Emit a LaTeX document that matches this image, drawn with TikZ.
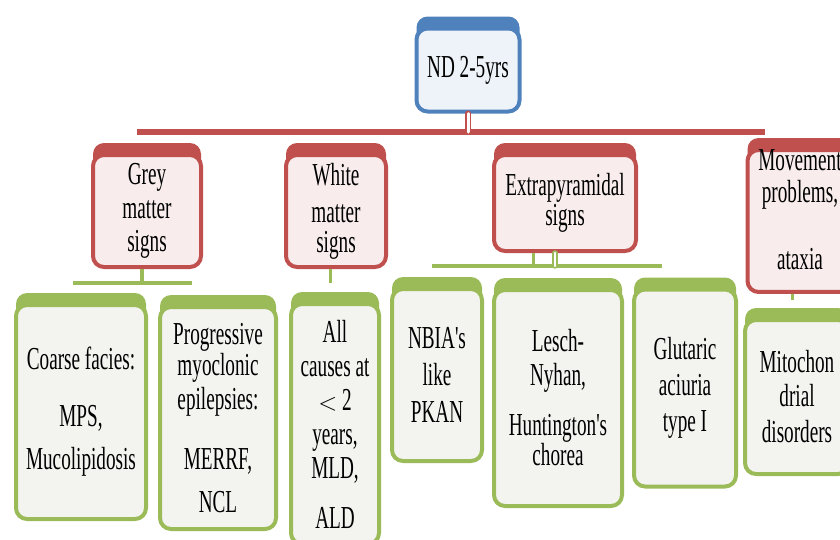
\documentclass[tikz,border=0pt]{standalone}
\usepackage{fontspec}
\newfontfamily\boxfont[FakeStretch=0.6]{Liberation Serif}
\usetikzlibrary{shadows}
\definecolor{cRed}{HTML}{C0504D}
\definecolor{cPink}{HTML}{F8ECEC}
\definecolor{cGreen}{HTML}{9BBB59}
\definecolor{cPale}{HTML}{F3F4F0}
\definecolor{cBlue}{HTML}{4F81BD}
\definecolor{cIce}{HTML}{EEF3F9}
\begin{document}
\begin{tikzpicture}[x=1pt,y=1pt,line cap=round,line join=round,
 font=\boxfont\fontsize{32}{34}\selectfont,
 box/.style={rounded corners=11pt,line width=4pt,align=center,inner sep=0pt},
 rootbox/.style={box,draw=cBlue,fill=cIce,
   general shadow={fill=cBlue,shadow yshift=12pt}},
 redbox/.style={box,draw=cRed,fill=cPink,
   general shadow={fill=cRed,shadow yshift=12pt}},
 greenbox/.style={box,draw=cGreen,fill=cPale,
   general shadow={fill=cGreen,shadow yshift=12pt}},
 redbus/.style={draw=cRed,line width=6pt,line cap=butt},
 rootlink/.style={draw=cRed,line width=1.6pt,double=white,double distance=3pt},
 greenbus/.style={draw=cGreen,line width=4pt,line cap=butt},
 greenlink/.style={draw=cGreen,line width=3pt,line cap=butt}]
\useasboundingbox (0,0) rectangle (840,-539);
% level 1: root box and the red bus under it
\node[rootbox,minimum width=103,minimum height=83] (root) at (468,-70) {ND 2-5yrs};
\coordinate (busW) at (137,-132);
\coordinate (busE) at (765,-132);
\draw[redbus] (busW) -- (busE);
\draw[rootlink] (root.south) -- (root.south |- busW);
% level 2: groups of signs
\node[redbox,minimum width=108,minimum height=112] (grey) at (147,-211)
 {Grey\\ matter\\[-1pt] signs};
\node[redbox,minimum width=100,minimum height=112] (white) at (336,-211)
 {White\\[3pt] matter\\[-4pt] signs};
\node[redbox,minimum width=142,minimum height=96] (extra) at (565,-203)
 {Extrapyramidal\\[-4pt] signs};
\node[redbox,minimum width=105,minimum height=130] (move) at (800,-221)
 {Movement\\[-2pt] problems,\\[33pt] ataxia\\[-12pt]\mbox{}};
% green buses below level 2
\coordinate (gbW) at (73,-283);
\coordinate (gbE) at (192,-283);
\draw[greenbus] (gbW) -- (gbE);
\draw[greenbus] ([xshift=-5pt]grey.south) -- ([xshift=-5pt]grey.south |- gbW);
\coordinate (wb) at (330,-283);
\draw[greenlink] (white.south -| wb) -- (wb);
\coordinate (ebW) at (432,-266);
\coordinate (ebE) at (662,-266);
\draw[greenbus] (ebW) -- (ebE);
\draw[greenlink] ([xshift=-32pt]extra.south) -- ([xshift=-32pt]extra.south |- ebW);
\draw[rootlink,draw=cGreen,line width=1.4pt,double distance=2.6pt]
 ([xshift=-10pt]extra.south) -- ([xshift=-10pt]extra.south |- ebW);
\coordinate (mb) at (792,-300);
\draw[greenlink] (move.south -| mb) -- (mb);
% level 3: disorders
\node[greenbox,minimum width=130,minimum height=214] (coarse) at (81,-412)
 {Coarse facies:\\[23pt] MPS,\\[9pt] Mucolipidosis};
\node[greenbox,minimum width=116,minimum height=222] (prog) at (218,-418)
 {Progressive\\[-3pt] myoclonic\\ epilepsies:\\[26pt] MERRF,\\[9pt] NCL};
\node[greenbox,minimum width=88,minimum height=240] (allc) at (335,-424)
 {All\\ causes at\\ $<$ 2\\ years,\\ MLD,\\[16pt] ALD};
\node[greenbox,minimum width=90,minimum height=172] (nbia) at (437,-375)
 {NBIA's\\[3pt] like\\[3pt] PKAN};
\node[greenbox,minimum width=128,minimum height=216] (lesch) at (558,-398)
 {Lesch-\\ Nyhan,\\[16pt] Huntington's\\[-4pt] chorea};
\node[greenbox,minimum width=102,minimum height=197] (glut) at (685,-388)
 {Glutaric\\[2pt] aciuria\\[2pt] type I};
\node[greenbox,minimum width=104,minimum height=154] (mito) at (797,-397)
 {Mitochon\\ drial\\[2pt] disorders};
\end{tikzpicture}
\end{document}
